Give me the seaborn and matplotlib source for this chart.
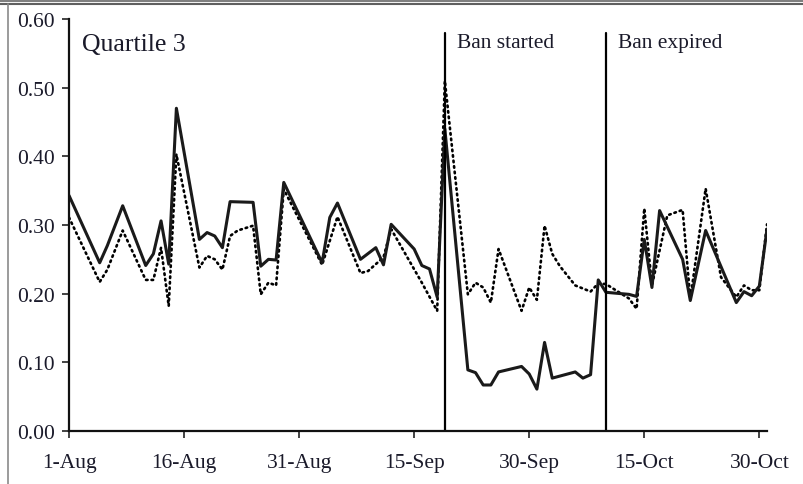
import matplotlib
matplotlib.use("Agg")
import matplotlib.pyplot as plt
from matplotlib.lines import Line2D
import seaborn as sns
import pandas as pd

# ---- data (day offsets from 1-Aug) ----
solid_days = [0, 4, 5, 7, 10, 11, 12, 13, 14, 17, 18, 19, 20, 21, 24, 25, 26, 27, 28,
              33, 34, 35, 38, 40, 41, 42, 45, 46, 47, 48, 49, 52, 53, 54, 55, 56, 59,
              60, 61, 62, 63, 66, 67, 68, 69, 70, 73, 74, 75, 76, 77, 80, 81, 83, 87,
              88, 89, 90, 91]
solid_vals = [0.343, 0.245, 0.270, 0.328, 0.241, 0.258, 0.306, 0.243, 0.470, 0.279,
              0.289, 0.284, 0.267, 0.334, 0.333, 0.240, 0.250, 0.249, 0.362, 0.245,
              0.311, 0.332, 0.250, 0.267, 0.242, 0.301, 0.265, 0.241, 0.236, 0.195,
              0.440, 0.089, 0.085, 0.067, 0.067, 0.086, 0.094, 0.083, 0.061, 0.129,
              0.077, 0.086, 0.077, 0.082, 0.220, 0.202, 0.199, 0.196, 0.279, 0.209,
              0.321, 0.250, 0.190, 0.292, 0.187, 0.203, 0.197, 0.211, 0.294]

dotted_days = [0, 4, 5, 7, 10, 11, 12, 13, 14, 17, 18, 19, 20, 21, 22, 24, 25, 26, 27,
               28, 33, 35, 38, 39, 41, 42, 46, 48, 49, 52, 53, 54, 55, 56, 59, 60, 61,
               62, 63, 64, 66, 68, 69, 70, 71, 73, 74, 75, 76, 78, 80, 81, 83, 85, 87,
               88, 89, 90, 91]
dotted_vals = [0.311, 0.217, 0.235, 0.292, 0.220, 0.220, 0.267, 0.182, 0.403, 0.238,
               0.255, 0.250, 0.235, 0.284, 0.292, 0.299, 0.199, 0.216, 0.212, 0.352,
               0.242, 0.312, 0.230, 0.233, 0.253, 0.294, 0.216, 0.175, 0.510, 0.199,
               0.216, 0.209, 0.187, 0.265, 0.175, 0.209, 0.191, 0.299, 0.258, 0.240,
               0.212, 0.203, 0.215, 0.214, 0.207, 0.193, 0.178, 0.324, 0.212, 0.314,
               0.322, 0.192, 0.353, 0.224, 0.195, 0.212, 0.205, 0.205, 0.301]

events = ["Ban started", "Ban expired"]
event_days = [49, 70]
panel_title = "Quartile 3"
yticks = [0.0, 0.1, 0.2, 0.3, 0.4, 0.5, 0.6]
xtick_days = [0, 15, 30, 45, 60, 75, 90]

start = pd.Timestamp("2008-08-01")
df_solid = pd.DataFrame({"date": start + pd.to_timedelta(solid_days, unit="D"),
                         "value": solid_vals})
df_dot = pd.DataFrame({"date": start + pd.to_timedelta(dotted_days, unit="D"),
                       "value": dotted_vals})

sns.set_theme(style="ticks")
plt.rcParams["font.family"] = ["Liberation Serif", "DejaVu Serif"]

fig = plt.figure(figsize=(8.04, 4.85), dpi=100)
ax = fig.add_axes([69 / 804, 53 / 485, (767 - 69) / 804, (432 - 20) / 485])

sns.lineplot(data=df_dot, x="date", y="value", ax=ax, color="black",
             linewidth=1.9, linestyle=(0, (0.6, 1.5)), dash_capstyle="round")
sns.lineplot(data=df_solid, x="date", y="value", ax=ax, color="#1a1a1a",
             linewidth=2.2)

for name, d in zip(events, event_days):
    xd = start + pd.Timedelta(days=d)
    ax.plot([xd, xd], [0, 0.579], color="black", linewidth=1.6)
    ax.text(xd + pd.Timedelta(days=1.6), 0.566, name, fontsize=15.5,
            va="center", ha="left", color="#1a1a2a")

ax.text(0.019, 0.94, panel_title, transform=ax.transAxes, fontsize=18.5,
        va="center", ha="left", color="#1a1a2a")

ax.set_xlim(start, start + pd.Timedelta(days=91))
ax.set_ylim(0, 0.6)
ax.set_yticks(yticks)
ax.set_yticklabels([f"{v:.2f}" for v in yticks])
xt = [start + pd.Timedelta(days=d) for d in xtick_days]
ax.set_xticks(xt)
ax.set_xticklabels([f"{t.day}-{t.strftime('%b')}" for t in xt])
ax.set_xlabel("")
ax.set_ylabel("")
ax.tick_params(axis="both", labelsize=15.5, colors="#222222", length=5, width=1.2,
               direction="out")
ax.tick_params(axis="x", pad=11)
ax.tick_params(axis="y", pad=5)
for lbl in ax.get_xticklabels() + ax.get_yticklabels():
    lbl.set_color("#1a1a2a")
sns.despine(ax=ax)
for s in ["left", "bottom"]:
    ax.spines[s].set_linewidth(1.6)
    ax.spines[s].set_color("#111111")
ax.grid(False)

# screenshot-style border
fig.add_artist(Line2D([0, 1], [1 - 1.5 / 485, 1 - 1.5 / 485], transform=fig.transFigure,
                      color="#808080", linewidth=1.5))
fig.add_artist(Line2D([0, 1], [1 - 4.5 / 485, 1 - 4.5 / 485], transform=fig.transFigure,
                      color="#606060", linewidth=1.5))
fig.add_artist(Line2D([8 / 804, 8 / 804], [0, 1 - 4.5 / 485], transform=fig.transFigure,
                      color="#8a8a8a", linewidth=1.2))

fig.savefig("out.png", dpi=100)
